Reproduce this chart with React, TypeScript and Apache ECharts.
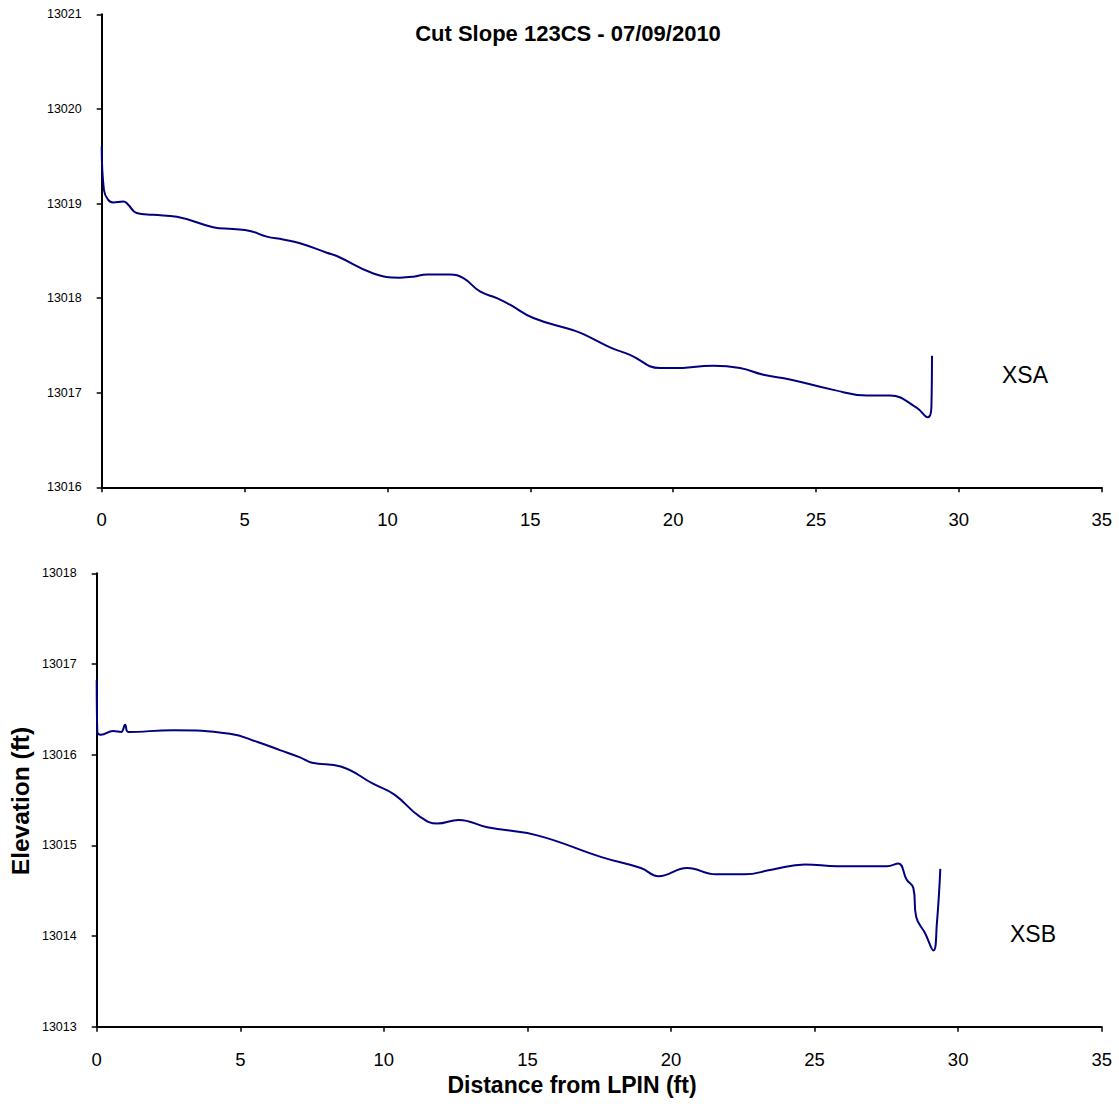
import React, { useEffect, useRef } from "react";
import * as echarts from "echarts";

// XSA (top) profile
const xsaX = [0, 0.08, 0.22, 0.4, 0.76, 0.92, 1.22, 1.8, 2.63, 3.9, 4.6, 5.19, 5.78, 6.35, 6.94, 7.88, 8.23, 9.51, 10.44, 10.91, 11.38, 12.19, 12.66, 13.24, 13.83, 14.29, 15.11, 16.51, 16.86, 17.79, 18.49, 19.54, 20.01, 21.41, 22.34, 23.16, 24.09, 25.61, 26.78, 27.59, 28.53, 28.91, 29.04, 29.06];
const xsaY = [13019.6, 13019.14, 13019.04, 13019.01, 13019.02, 13018.99, 13018.9, 13018.88, 13018.86, 13018.75, 13018.73, 13018.71, 13018.65, 13018.62, 13018.58, 13018.48, 13018.445, 13018.26, 13018.216, 13018.226, 13018.25, 13018.25, 13018.21, 13018.07, 13018.0, 13017.93, 13017.79, 13017.66, 13017.62, 13017.48, 13017.4, 13017.26, 13017.26, 13017.285, 13017.26, 13017.19, 13017.14, 13017.03, 13016.97, 13016.97, 13016.84, 13016.74, 13016.85, 13017.39];

// XSB (bottom) profile
const xsbX = [0, 0.02, 0.15, 0.57, 0.85, 0.99, 1.1, 2.66, 4.64, 5.6, 6.38, 7.08, 7.5, 8.5, 9.62, 10.37, 11.24, 11.86, 12.61, 13.6, 15.34, 17.58, 18.95, 19.57, 20.56, 21.56, 22.56, 23.5, 24.67, 25.79, 27.52, 27.92, 28.21, 28.44, 28.54, 28.85, 29.14, 29.26, 29.38];
const xsbY = [13016.82, 13016.25, 13016.22, 13016.26, 13016.25, 13016.33, 13016.25, 13016.27, 13016.23, 13016.14, 13016.05, 13015.97, 13015.91, 13015.87, 13015.68, 13015.56, 13015.32, 13015.24, 13015.28, 13015.2, 13015.11, 13014.87, 13014.75, 13014.66, 13014.75, 13014.68, 13014.68, 13014.73, 13014.79, 13014.77, 13014.77, 13014.8, 13014.62, 13014.53, 13014.21, 13014.03, 13013.84, 13014.14, 13014.74];

const xTicks = { min: 0, max: 35, interval: 5 };
const topY = { min: 13016, max: 13021, interval: 1 };
const botY = { min: 13013, max: 13018, interval: 1 };

const titleText = "Cut Slope 123CS - 07/09/2010";
const xName = "Distance from LPIN (ft)";
const yName = "Elevation (ft)";
const labelA = "XSA";
const labelB = "XSB";

const FONT = "'Liberation Sans', Arial, sans-serif";

export default function App() {
  const ref = useRef<HTMLDivElement>(null);
  useEffect(() => {
    if (!ref.current) return;
    const chart = echarts.init(ref.current, undefined, { renderer: "svg" });
    const axisLine = { show: true, lineStyle: { color: "#000", width: 2 } };
    const axisTick = { show: true, length: 5, lineStyle: { color: "#000", width: 1.5 } };
    const mkX = (idx: number) => ({
      type: "value",
      gridIndex: idx,
      min: xTicks.min,
      max: xTicks.max,
      interval: xTicks.interval,
      axisLine,
      axisTick,
      splitLine: { show: false },
      axisLabel: { color: "#000", fontSize: 18.5, fontFamily: FONT, margin: 23 },
    });
    const mkY = (idx: number, r: { min: number; max: number; interval: number }) => ({
      type: "value",
      gridIndex: idx,
      min: r.min,
      max: r.max,
      interval: r.interval,
      axisLine,
      axisTick,
      splitLine: { show: false },
      axisLabel: {
        color: "#000",
        fontSize: 12.5,
        fontFamily: FONT,
        margin: 20,
        formatter: (v: number) => String(v),
      },
    });
    chart.setOption({
      animation: false,
      backgroundColor: "#fff",
      grid: [
        { left: 101.7, top: 14.3, width: 1000, height: 473 },
        { left: 96.7, top: 573.3, width: 1005, height: 453.4 },
      ],
      xAxis: [mkX(0), mkX(1)],
      yAxis: [mkY(0, topY), mkY(1, botY)],
      series: [
        {
          type: "line",
          xAxisIndex: 0,
          yAxisIndex: 0,
          data: xsaX.map((x, i) => [x, xsaY[i]]),
          smooth: 0.45,
          showSymbol: false,
          lineStyle: { color: "#000080", width: 2 },
        },
        {
          type: "line",
          xAxisIndex: 1,
          yAxisIndex: 1,
          data: xsbX.map((x, i) => [x, xsbY[i]]),
          smooth: 0.45,
          showSymbol: false,
          lineStyle: { color: "#000080", width: 2 },
        },
      ],
      graphic: [
        {
          type: "text",
          x: 568,
          y: 33,
          style: { text: titleText, font: `bold 22px ${FONT}`, fill: "#000", align: "center", verticalAlign: "middle" },
        },
        {
          type: "text",
          x: 572,
          y: 1085,
          style: { text: xName, font: `bold 23px ${FONT}`, fill: "#000", align: "center", verticalAlign: "middle" },
        },
        {
          type: "text",
          x: 20,
          y: 801,
          rotation: Math.PI / 2,
          style: { text: yName, font: `bold 24.5px ${FONT}`, fill: "#000", align: "center", verticalAlign: "middle" },
        },
        {
          type: "text",
          x: 1025,
          y: 375,
          style: { text: labelA, font: `23px ${FONT}`, fill: "#000", align: "center", verticalAlign: "middle" },
        },
        {
          type: "text",
          x: 1033,
          y: 934,
          style: { text: labelB, font: `23px ${FONT}`, fill: "#000", align: "center", verticalAlign: "middle" },
        },
      ],
    });
    return () => chart.dispose();
  }, []);
  return (
    <div
      ref={ref}
      style={{ position: "absolute", left: 0, top: 0, width: 1119, height: 1109, background: "#fff" }}
    />
  );
}
